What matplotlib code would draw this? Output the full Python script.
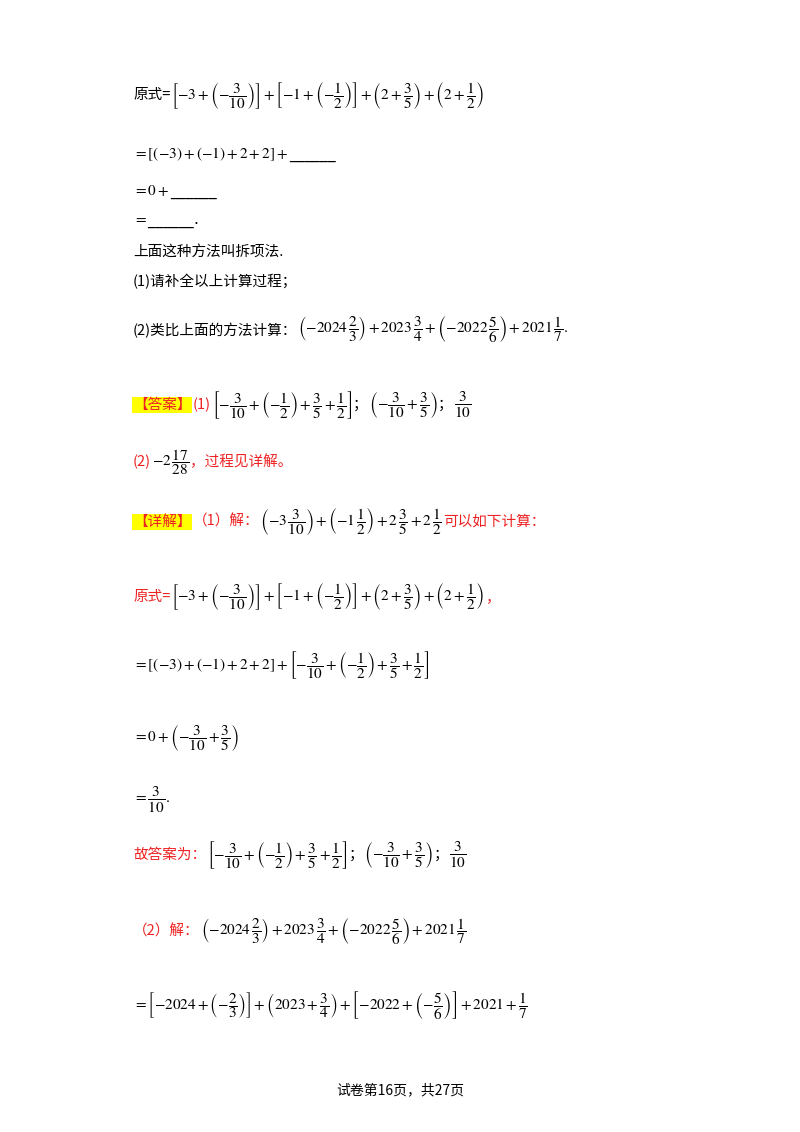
import matplotlib
matplotlib.use("Agg")
import matplotlib.pyplot as plt

plt.rcParams['mathtext.fontset'] = 'stix'
R = '#ee2222'; K = 'black'; H = 'hl'
lines = [
    (95, [('原式=', K, 0), (r'$\left[-3+\left(-\frac{3}{10}\right)\right]+\left[-1+\left(-\frac{1}{2}\right)\right]+\left(2+\frac{3}{5}\right)+\left(2+\frac{1}{2}\right)$', K, 1)]),
    (155, [(r'$=\left[\left(-3\right)+\left(-1\right)+2+2\right]+$______', K, 1)]),
    (192, [(r'$=0+$______', K, 1)]),
    (222, [(r'$=$______.', K, 1)]),
    (252, [('上面这种方法叫拆项法.', K, 0)]),
    (282, [('(1)请补全以上计算过程；', K, 0)]),
    (330, [('(2)类比上面的方法计算：', K, 0), (r'$\left(-2024\,\frac{2}{3}\right)+2023\,\frac{3}{4}+\left(-2022\,\frac{5}{6}\right)+2021\,\frac{1}{7}.$', K, 1)]),
    (405, [('【答案】', R, H), ('(1)', R, 0), (r'$\left[-\frac{3}{10}+\left(-\frac{1}{2}\right)+\frac{3}{5}+\frac{1}{2}\right]$', K, 1), ('；', K, 0), (r'$\left(-\frac{3}{10}+\frac{3}{5}\right)$', K, 1), ('；', K, 0), (r'$\frac{3}{10}$', K, 1)]),
    (462, [('(2)', R, 0), (r'$-2\,\frac{17}{28}$', K, 1), ('，过程见详解。', R, 0)]),
    (522, [('【详解】', R, H), ('（1）解：', R, 0), (r'$\left(-3\,\frac{3}{10}\right)+\left(-1\,\frac{1}{2}\right)+2\,\frac{3}{5}+2\,\frac{1}{2}$', K, 1), ('可以如下计算：', R, 0)]),
    (597, [('原式=', R, 0), (r'$\left[-3+\left(-\frac{3}{10}\right)\right]+\left[-1+\left(-\frac{1}{2}\right)\right]+\left(2+\frac{3}{5}\right)+\left(2+\frac{1}{2}\right)$', K, 1), ('，', R, 0)]),
    (665, [(r'$=\left[\left(-3\right)+\left(-1\right)+2+2\right]+\left[-\frac{3}{10}+\left(-\frac{1}{2}\right)+\frac{3}{5}+\frac{1}{2}\right]$', K, 1)]),
    (738, [(r'$=0+\left(-\frac{3}{10}+\frac{3}{5}\right)$', K, 1)]),
    (800, [(r'$=\frac{3}{10}.$', K, 1)]),
    (855, [('故答案为：', R, 0), (r'$\left[-\frac{3}{10}+\left(-\frac{1}{2}\right)+\frac{3}{5}+\frac{1}{2}\right]$', K, 1), ('；', K, 0), (r'$\left(-\frac{3}{10}+\frac{3}{5}\right)$', K, 1), ('；', K, 0), (r'$\frac{3}{10}$', K, 1)]),
    (932, [('（2）解：', R, 0), (r'$\left(-2024\,\frac{2}{3}\right)+2023\,\frac{3}{4}+\left(-2022\,\frac{5}{6}\right)+2021\,\frac{1}{7}$', K, 1)]),
    (1005, [(r'$=\left[-2024+\left(-\frac{2}{3}\right)\right]+\left(2023+\frac{3}{4}\right)+\left[-2022+\left(-\frac{5}{6}\right)\right]+2021+\frac{1}{7}$', K, 1)]),
]
footer = '试卷第16页，共27页'

W, Hh = 800, 1132
fig = plt.figure(figsize=(8, 11.32), dpi=100)
fig.patch.set_facecolor('white')
r = fig.canvas.get_renderer()
cjk = ['Noto Sans CJK SC', 'DejaVu Sans']
for y, segs in lines:
    x = 133
    for s, c, kind in segs:
        kw = dict(color=c, va='center', ha='left', fontsize=10.5)
        if kind == 1:
            s = s.replace(r'\frac', r'\dfrac')
            kw['fontsize'] = 11
        else:
            kw['family'] = cjk
        if kind == H:
            kw['bbox'] = dict(facecolor='#ffff00', edgecolor='none', pad=0.5)
        t = fig.text(x / W, 1 - y / Hh, s, **kw)
        x = t.get_window_extent(r).x1 + 1
fig.text(0.5, 1 - 1090 / Hh, footer, ha='center', va='center', fontsize=10, family=cjk)
fig.savefig('out.png', dpi=100, facecolor='white')
